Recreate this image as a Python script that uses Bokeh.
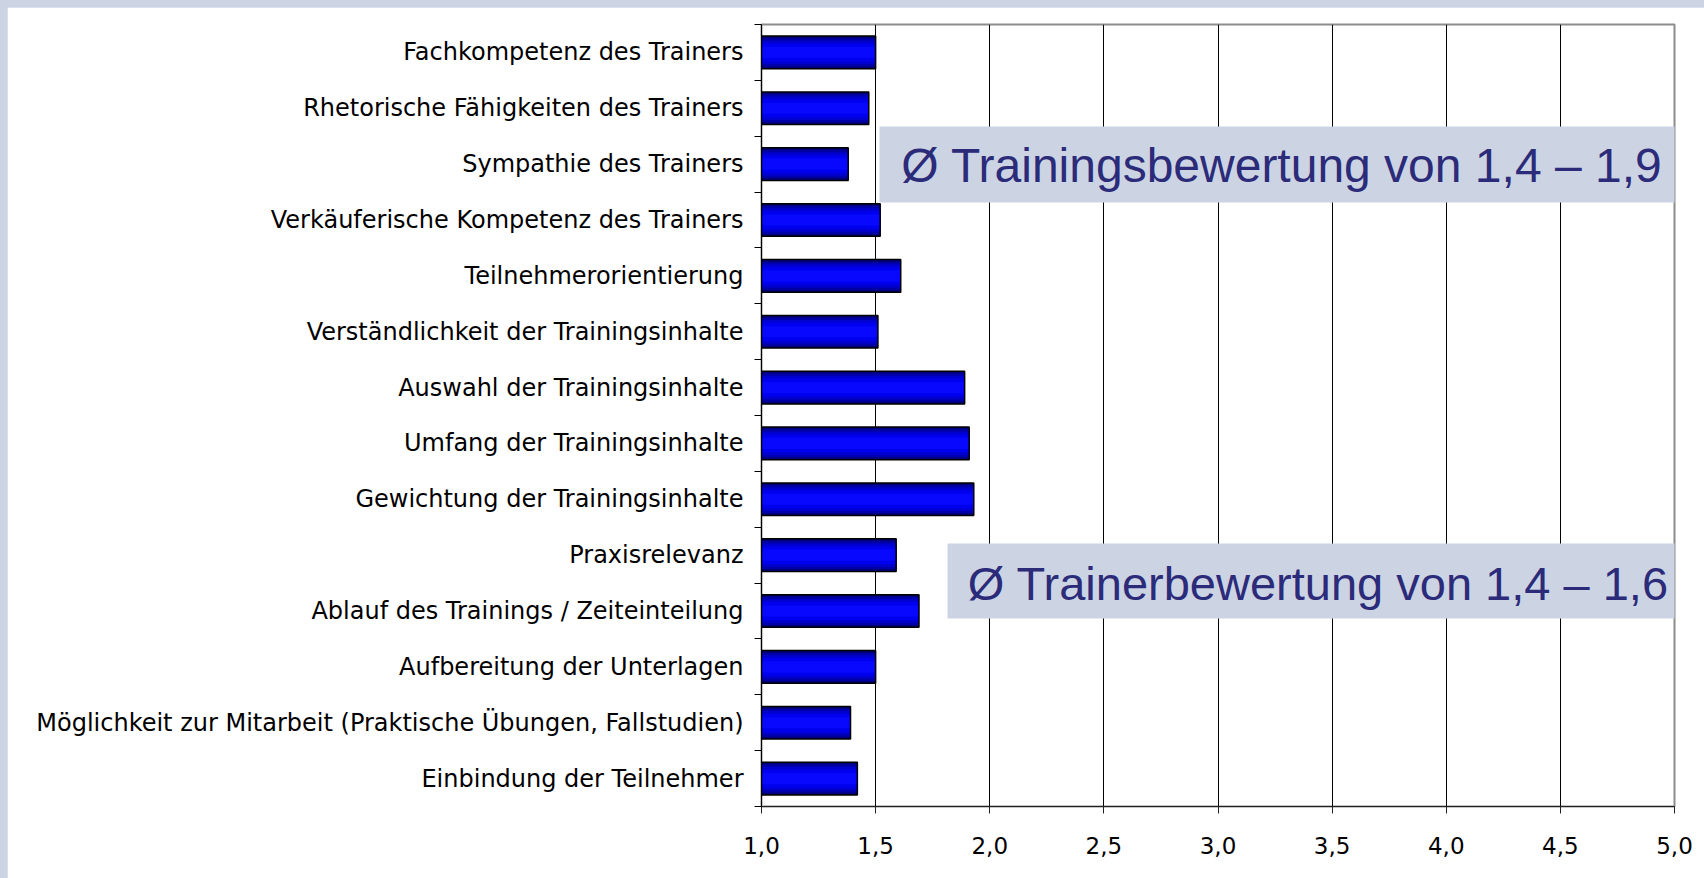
import re
from bokeh.plotting import figure
from bokeh.models import Range1d, FixedTicker, BoxAnnotation, Label
from bokeh.embed import file_html
from bokeh.resources import INLINE

categories = [
    "Fachkompetenz des Trainers",
    "Rhetorische Fähigkeiten des Trainers",
    "Sympathie des Trainers",
    "Verkäuferische Kompetenz des Trainers",
    "Teilnehmerorientierung",
    "Verständlichkeit der Trainingsinhalte",
    "Auswahl der Trainingsinhalte",
    "Umfang der Trainingsinhalte",
    "Gewichtung der Trainingsinhalte",
    "Praxisrelevanz",
    "Ablauf des Trainings / Zeiteinteilung",
    "Aufbereitung der Unterlagen",
    "Möglichkeit zur Mitarbeit (Praktische Übungen, Fallstudien)",
    "Einbindung der Teilnehmer",
]
scores = [1.50, 1.47, 1.38, 1.52, 1.61, 1.51, 1.89, 1.91, 1.93, 1.59, 1.69, 1.50, 1.39, 1.42]
x_ticks = [1.0, 1.5, 2.0, 2.5, 3.0, 3.5, 4.0, 4.5, 5.0]
x_tick_labels = ["1,0", "1,5", "2,0", "2,5", "3,0", "3,5", "4,0", "4,5", "5,0"]
notes = ["Ø Trainingsbewertung von 1,4 – 1,9", "Ø Trainerbewertung von 1,4 – 1,6"]

AX_FONT = "DejaVu Sans"
NOTE_FONT = "Liberation Sans"
BG = "#ccd4e4"
n = len(categories)
ys = [i + 0.5 for i in range(n)]
bounds = [float(i) for i in range(n + 1)]

p = figure(width=1697, height=871,
           x_range=Range1d(1.0, 5.0), y_range=Range1d(n, 0),
           output_backend="svg", toolbar_location=None,
           min_border_left=754, min_border_right=30,
           min_border_top=17, min_border_bottom=72)
p.background_fill_color = "white"
p.border_fill_color = "white"
p.outline_line_color = "#8c8c8c"
p.outline_line_width = 2

# bars: layered for a vertical gradient
base_left = [1.0] * n
layers = [(0.585, "#00007a"), (0.50, "#0000a8"), (0.42, "#0000d0"), (0.32, "#0000ee"), (0.20, "#0808ff")]
for h, c in layers:
    p.hbar(y=ys, left=base_left, right=scores, height=h, fill_color=c, line_color=None)
p.hbar(y=ys, left=base_left, right=scores, height=0.585, fill_alpha=0,
       line_color="black", line_width=1.5)

# grid
p.ygrid.grid_line_color = None
p.xgrid.ticker = FixedTicker(ticks=x_ticks[1:])
p.xgrid.grid_line_color = "black"
p.xgrid.grid_line_width = 1

# x axis
xa = p.xaxis[0]
xa.ticker = FixedTicker(ticks=x_ticks)
xa.major_label_overrides = {t: s for t, s in zip(x_ticks, x_tick_labels)}
xa.major_tick_out = 7
xa.major_tick_in = 0
xa.minor_tick_out = 0
xa.axis_line_color = "#222222"
xa.major_tick_line_color = "#222222"
xa.major_label_text_font = AX_FONT
xa.major_label_text_font_size = "23px"
xa.major_label_text_color = "black"
xa.major_label_standoff = 23

# y axis: labels at centers, ticks at boundaries
ya = p.yaxis[0]
ya.ticker = FixedTicker(ticks=ys, minor_ticks=bounds)
ya.major_label_overrides = {y: c for y, c in zip(ys, categories)}
ya.major_tick_out = 0
ya.major_tick_in = 0
ya.minor_tick_out = 7
ya.minor_tick_in = 0
ya.minor_tick_line_color = "black"
ya.axis_line_color = "black"
ya.major_label_text_font = AX_FONT
ya.major_label_text_font_size = "24px"
ya.major_label_text_color = "black"
ya.major_label_standoff = 11

# annotation boxes
box1 = BoxAnnotation(left=1.517, right=5.031, top=1.826, bottom=3.187,
                     fill_color=BG, fill_alpha=1.0, line_color=None)
box2 = BoxAnnotation(left=1.815, right=5.031, top=9.291, bottom=10.634,
                     fill_color=BG, fill_alpha=1.0, line_color=None)
p.add_layout(box1)
p.add_layout(box2)
lab1 = Label(x=1.612, y=2.52, text=notes[0], text_font=NOTE_FONT, text_font_size="48px",
             text_color="#2b2b7a", text_baseline="middle", text_align="left")
lab2 = Label(x=1.904, y=10.0, text=notes[1], text_font=NOTE_FONT, text_font_size="47px",
             text_color="#2b2b7a", text_baseline="middle", text_align="left")
p.add_layout(lab1)
p.add_layout(lab2)

html = file_html(p, INLINE)
style = ("<style>html { background-color: %s !important; } "
         "body { margin: 0 !important; padding: 7px 0 0 7px !important; "
         "background-color: %s !important; overflow: hidden !important; }</style>") % (BG, BG)
if "</head>" in html:
    html = html.replace("</head>", style + "</head>", 1)
else:
    html = re.sub(r"<body([^>]*)>", lambda m: "<body%s>%s" % (m.group(1), style), html, count=1)
open("out.html", "w").write(html)
